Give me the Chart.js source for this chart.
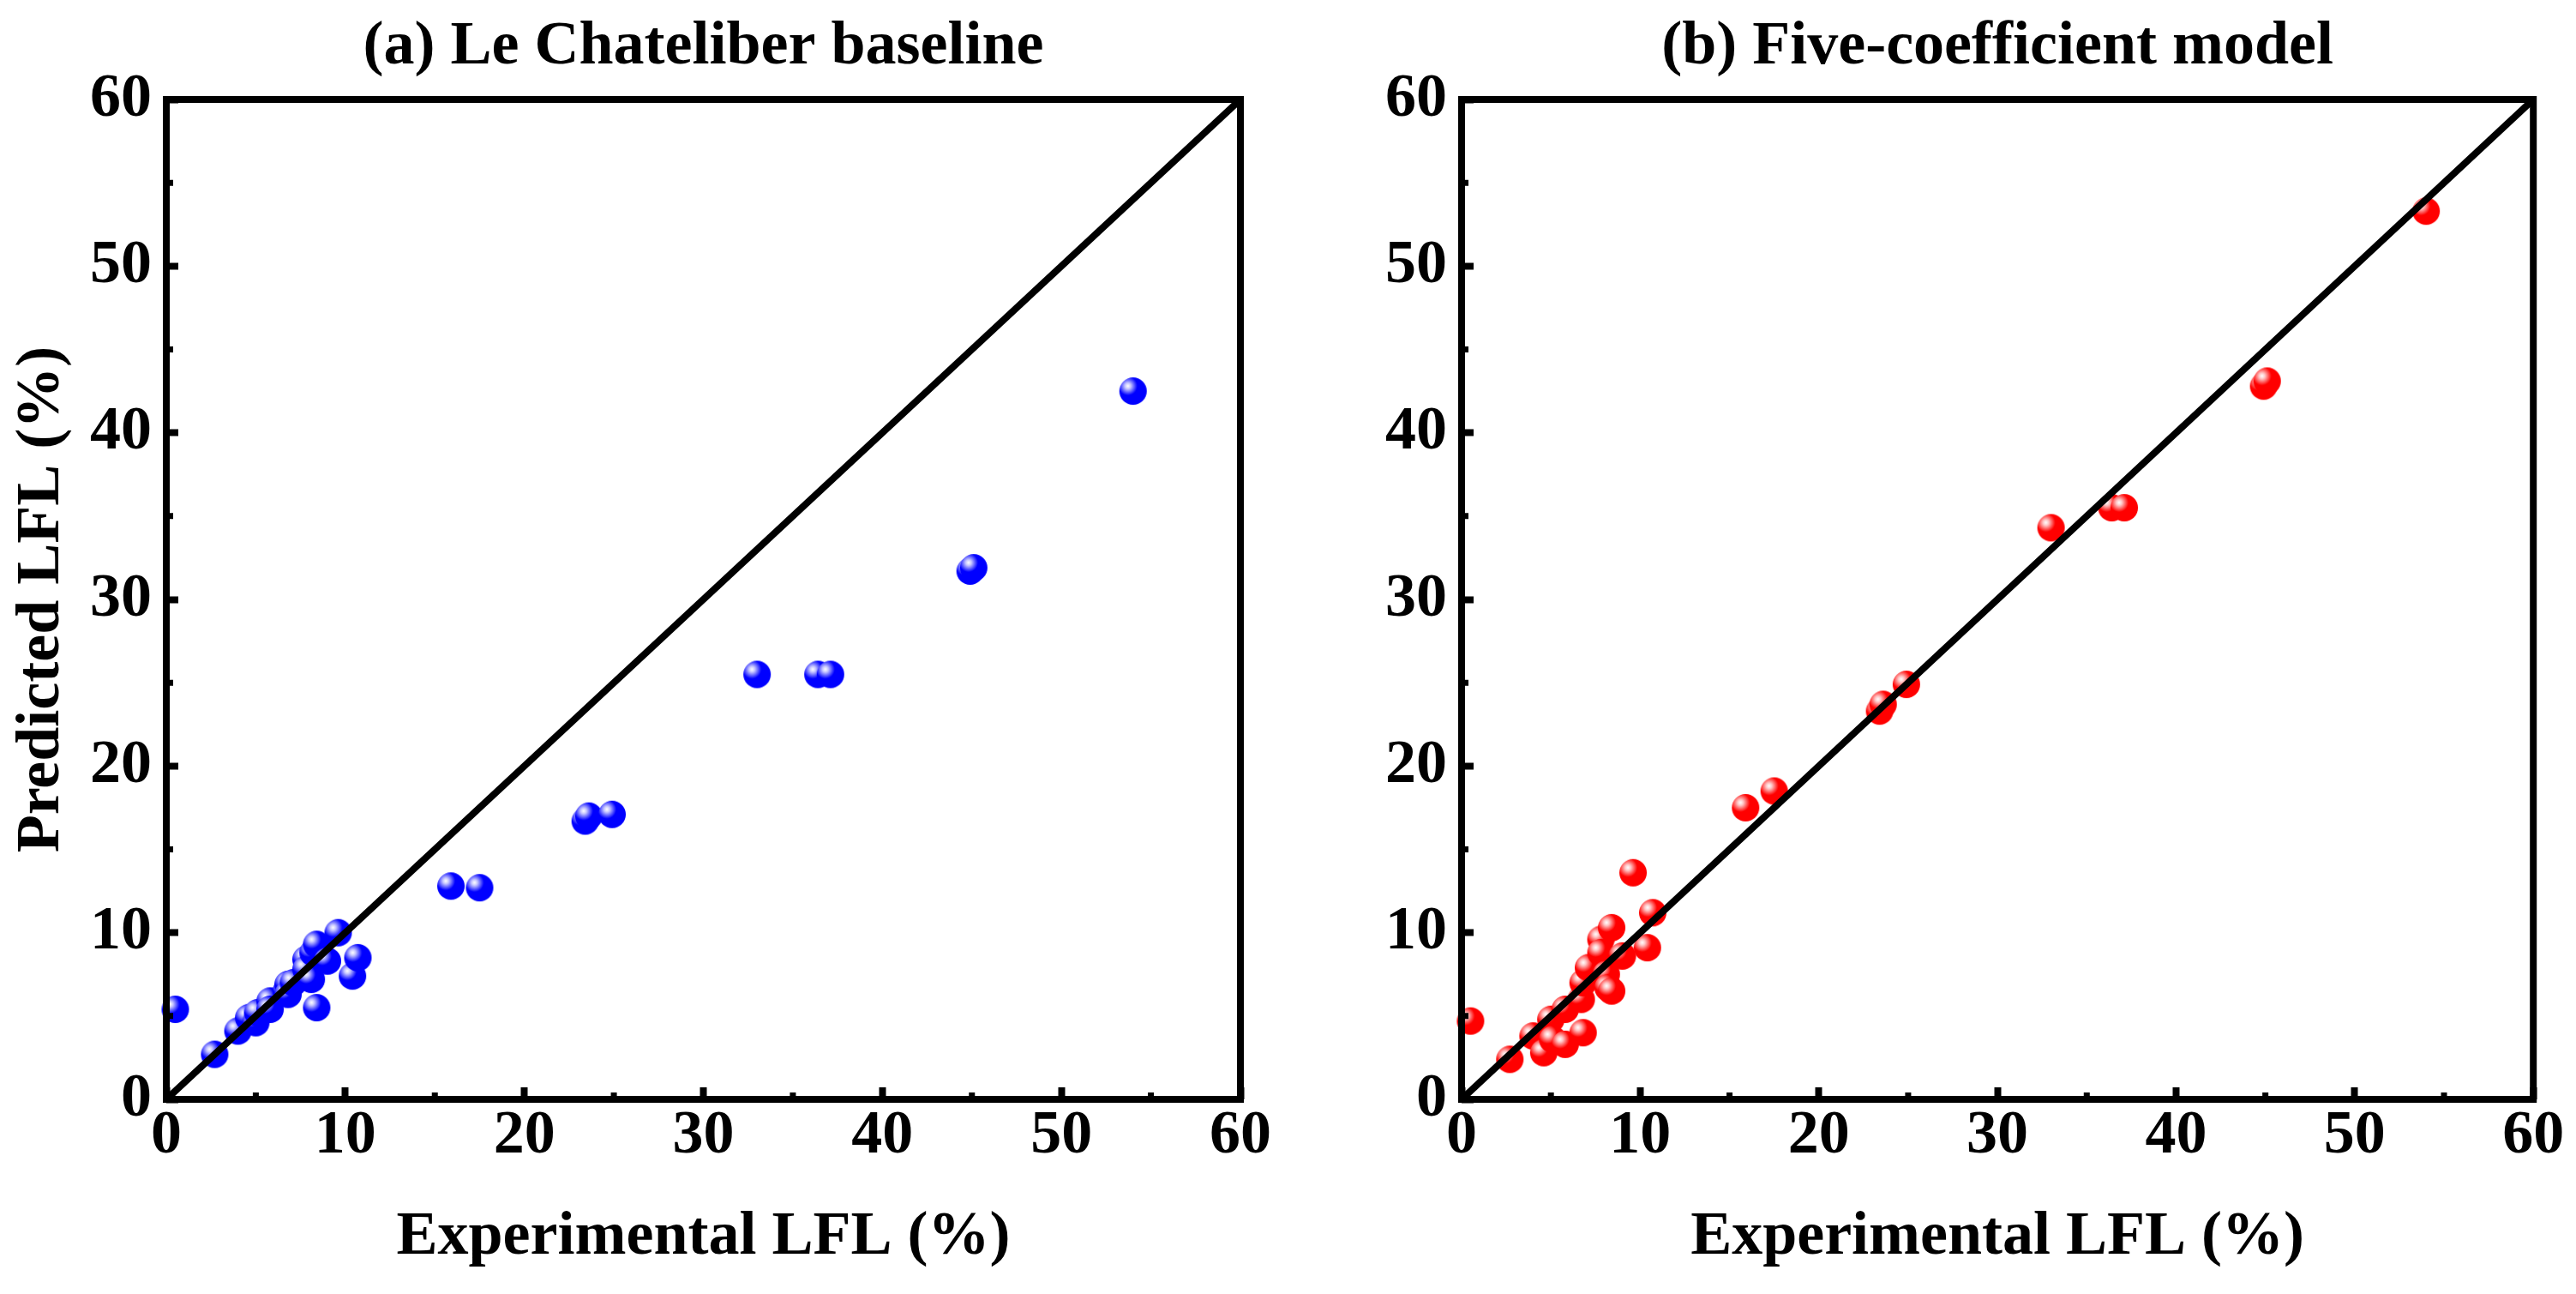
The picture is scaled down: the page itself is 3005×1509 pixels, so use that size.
<!DOCTYPE html>
<html>
<head>
<meta charset="utf-8">
<script src="https://cdn.jsdelivr.net/npm/chart.js@4.4.0/dist/chart.umd.min.js"></script>
<style>
  body { margin: 0; background: #fff; }
  canvas { position: absolute; top: 0; }
  #chartA { left: 0; }
  #chartB { left: 1500px; }
</style>
</head>
<body>
<canvas id="chartA" width="1500" height="1509"></canvas>
<canvas id="chartB" width="1505" height="1509"></canvas>
<script>
// experimental LFL (%) shared by both panels
const experimental = [0.5, 2.7, 4.0, 4.6, 5.0, 5.1, 5.8, 5.8, 6.7, 6.8, 6.8, 7.1, 7.8, 7.8, 8.1, 8.2, 8.4, 8.4, 9.0, 9.6, 10.4, 10.7,
  15.9, 17.5, 23.4, 23.6, 24.9, 33.0, 36.4, 37.1, 44.9, 45.1, 54.0];
// (a) Le Chatelier predictions
const predictedLeChatelier = [5.4, 2.7, 4.1, 4.9, 4.6, 5.2, 5.9, 5.4, 6.5, 6.9, 6.3, 7.0, 8.4, 7.8, 7.2, 8.8, 9.3, 5.5, 8.3, 10.0, 7.4, 8.5,
  12.8, 12.7, 16.7, 17.0, 17.1, 25.5, 25.5, 25.5, 31.7, 31.9, 42.5];
// (b) five-coefficient model predictions
const predictedFiveCoef = [4.7, 2.4, 3.8, 2.8, 4.8, 3.6, 5.4, 3.3, 6.0, 7.0, 4.0, 7.9, 9.6, 8.8, 7.5, 6.7, 10.3, 6.5, 8.6, 13.6, 9.1, 11.2,
  17.5, 18.5, 23.3, 23.7, 24.9, 34.3, 35.5, 35.5, 42.8, 43.1, 53.3];

const parityLine = [0, 60];
const tickValues = [0, 10, 20, 30, 40, 50, 60];
const minorTicks = [5, 15, 25, 35, 45, 55];

const FONT = '"Liberation Serif", "Times New Roman", serif';
const bigFont = { family: FONT, size: 72, weight: 'bold' };

// shaded ball marker
function sphere(color, glow) {
  const c = document.createElement('canvas');
  c.width = 34; c.height = 34;
  const g = c.getContext('2d');
  const grad = g.createRadialGradient(11, 11, 0, 11, 11, 11);
  grad.addColorStop(0, '#ffffff');
  grad.addColorStop(0.3, glow);
  grad.addColorStop(1, color);
  g.fillStyle = grad;
  g.beginPath();
  g.arc(17, 17, 16, 0, Math.PI * 2);
  g.fill();
  return c;
}

// box frame + small minor ticks
const framePlugin = {
  id: 'frame',
  afterDraw(chart) {
    const { ctx, chartArea: a, scales } = chart;
    ctx.save();
    ctx.strokeStyle = '#000';
    ctx.lineWidth = 7;
    minorTicks.forEach(v => {
      const px = scales.x.getPixelForValue(v);
      const py = scales.y.getPixelForValue(v);
      ctx.beginPath();
      ctx.moveTo(px, a.bottom); ctx.lineTo(px, a.bottom - 8);
      ctx.moveTo(a.left, py); ctx.lineTo(a.left + 8, py);
      ctx.stroke();
    });
    ctx.lineWidth = 8;
    ctx.strokeRect(a.left, a.top, a.right - a.left, a.bottom - a.top);
    ctx.restore();
  }
};

function makeChart(id, title, yData, color, glow, showYTitle, yAxisWidth, rightPad) {
  return new Chart(document.getElementById(id), {
    type: 'scatter',
    data: {
      datasets: [
        {
          type: 'line',
          data: parityLine.map(v => ({ x: v, y: v })),
          borderColor: '#000',
          borderWidth: 8,
          pointRadius: 0,
          showLine: true,
          order: 0
        },
        {
          data: experimental.map((x, i) => ({ x: x, y: yData[i] })),
          pointStyle: sphere(color, glow),
          pointRadius: 16,
          clip: false,
          order: 1
        }
      ]
    },
    options: {
      responsive: false,
      animation: false,
      devicePixelRatio: 1,
      layout: { padding: { left: 0, right: rightPad, top: 0, bottom: 0 }, autoPadding: false },
      plugins: {
        legend: { display: false },
        tooltip: { enabled: false },
        title: {
          display: true,
          text: title,
          fullSize: false,
          color: '#000',
          font: bigFont,
          padding: { top: 12, bottom: 17.6 }
        }
      },
      scales: {
        x: {
          type: 'linear', min: 0, max: 60,
          afterBuildTicks: s => { s.ticks = tickValues.map(v => ({ value: v })); },
          afterFit: s => { s.height = 227; },
          border: { display: false },
          grid: { drawOnChartArea: false, drawTicks: true, tickLength: -14, tickWidth: 8, tickColor: '#000' },
          ticks: { padding: 13.8, color: '#000', font: bigFont, maxRotation: 0, autoSkip: false },
          title: { display: true, text: 'Experimental LFL (%)', color: '#000', font: bigFont, padding: { top: 0, bottom: 22.8 } }
        },
        y: {
          type: 'linear', min: 0, max: 60,
          afterBuildTicks: s => { s.ticks = tickValues.map(v => ({ value: v })); },
          afterFit: s => { s.width = yAxisWidth; },
          border: { display: false },
          grid: { drawOnChartArea: false, drawTicks: true, tickLength: -14, tickWidth: 8, tickColor: '#000' },
          ticks: { padding: 31, color: '#000', font: bigFont, autoSkip: false },
          title: { display: showYTitle, text: 'Predicted LFL (%)', color: '#000', font: bigFont, padding: { top: 6, bottom: 0 } }
        }
      }
    },
    plugins: [framePlugin]
  });
}

makeChart('chartA', '(a) Le Chateliber baseline', predictedLeChatelier, '#0000ff', '#c8c8ff', true, 194, 53);
makeChart('chartB', '(b) Five-coefficient model', predictedFiveCoef, '#ff0000', '#ffc8c8', false, 205, 47.5);
</script>
</body>
</html>
